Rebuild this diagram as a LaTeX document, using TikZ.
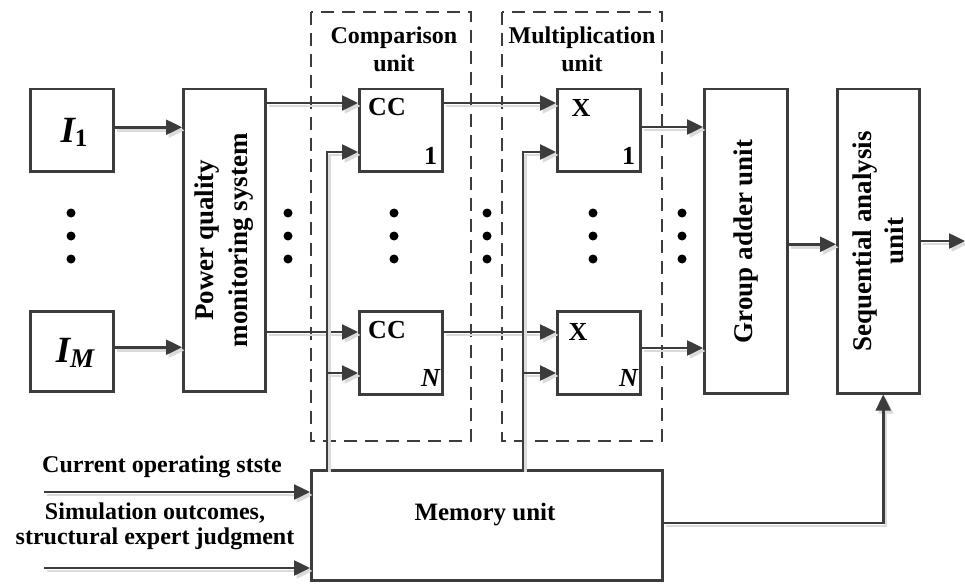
\documentclass[tikz,border=0pt]{standalone}
\usepackage{fontspec}
\setmainfont{Liberation Serif}
\usetikzlibrary{arrows.meta}
\definecolor{ink}{HTML}{3C3C3C}

% a connector with its soft drop shadow
\newcommand{\wirelink}[1]{%
  \draw[shadowline] #1;
  \draw[conn] #1;}

\begin{document}
\begin{tikzpicture}[x=1pt,y=-1pt,
  box/.style={draw=ink, line width=2.5pt, inner sep=0pt, anchor=north west},
  conn/.style={draw=ink, line width=2.5pt, -{Triangle[length=16pt,width=15pt]}},
  shadowline/.style={conn, draw=black!14, transform canvas={shift={(2.5pt,-3pt)}}},
  grp/.style={draw=ink, line width=2.3pt, dash pattern=on 13pt off 8pt},
  dotc/.style={circle, fill=black, inner sep=0pt, minimum size=9pt},
  lbl/.style={font=\bfseries\fontsize{24}{28}\selectfont, align=center, inner sep=0pt},
  big/.style={font=\bfseries\fontsize{27}{34}\selectfont, align=center, inner sep=0pt, rotate=90},
  tag/.style={font=\bfseries\fontsize{26}{28}\selectfont, inner sep=0pt},
]
\useasboundingbox (0,0) rectangle (965,583);

% grouping frames
\draw[grp] (311,12) rectangle (471,441);
\draw[grp] (502,12) rectangle (662,441);
\node[lbl] (cmpT) at (394,49) {Comparison\\unit};
\node[lbl] (mulT) at (582,49) {Multiplication\\unit};

% blocks
\node[box, minimum width=83pt, minimum height=82pt] (I1) at (29,88) {};
\node[box, minimum width=83pt, minimum height=80pt] (IM) at (29,310) {};
\node[box, minimum width=82pt, minimum height=302pt] (PQ) at (182,88) {};
\node[box, minimum width=83pt, minimum height=82pt] (CC1) at (358,88) {};
\node[box, minimum width=83pt, minimum height=83pt] (CCN) at (358,310) {};
\node[box, minimum width=83pt, minimum height=82pt] (X1) at (556,88) {};
\node[box, minimum width=83pt, minimum height=83pt] (XN) at (556,310) {};
\node[box, minimum width=83pt, minimum height=304pt] (GA) at (703,88) {};
\node[box, minimum width=82pt, minimum height=304pt] (SA) at (836,88) {};
\node[box, minimum width=351pt, minimum height=110pt] (MEM) at (310,469) {};

% block texts
\node[inner sep=0pt] (I1t) at (74,132) {{\fontsize{37}{37}\selectfont\bfseries\itshape I}\raisebox{-4pt}{\fontsize{25}{25}\selectfont\bfseries 1}};
\node[inner sep=0pt] (IMt) at (75,353) {{\fontsize{37}{37}\selectfont\bfseries\itshape I}\raisebox{-5pt}{\fontsize{27}{27}\selectfont\bfseries\itshape M}};
\node[big] (PQt) at (PQ.center) {Power quality\\monitoring system};
\node[big] (GAt) at (GA.center) {Group adder unit};
\node[big, font=\bfseries\fontsize{27}{32}\selectfont] (SAt) at (SA.center) {Sequential analysis\\unit};
\node[font=\bfseries\fontsize{25}{28}\selectfont, inner sep=0pt] (MEMt) at (485,515) {Memory unit};

\node[tag] (cc1t) at ([xshift=29pt,yshift=-19pt]CC1.north west) {CC};
\node[tag] (cc1n) at ([xshift=-13pt,yshift=17pt]CC1.south east) {1};
\node[tag] (ccNt) at ([xshift=29pt,yshift=-20pt]CCN.north west) {CC};
\node[tag, font=\bfseries\itshape\fontsize{26}{28}\selectfont] (ccNn) at ([xshift=-13pt,yshift=18pt]CCN.south east) {N};
\node[tag] (x1t) at ([xshift=25pt,yshift=-20pt]X1.north west) {X};
\node[tag] (x1n) at ([xshift=-13pt,yshift=17pt]X1.south east) {1};
\node[tag] (xNt) at ([xshift=22pt,yshift=-22pt]XN.north west) {X};
\node[tag, font=\bfseries\itshape\fontsize{26}{28}\selectfont] (xNn) at ([xshift=-13pt,yshift=18pt]XN.south east) {N};

% input labels
\node[lbl] (curT) at (162,467) {Current operating stste};
\node[lbl, font=\bfseries\fontsize{24}{25}\selectfont] (simT) at (155,526) {Simulation outcomes,\\structural expert judgment};

% ellipsis dots
\foreach \x/\n in {71/a,288/b,394/c,487/d,593/e,682/f}{
  \node[dotc] (\n1) at (\x,213) {};
  \node[dotc] (\n2) at (\x,236) {};
  \node[dotc] (\n3) at (\x,259) {};
}

% ports
\coordinate (cc1a) at ([yshift=-15pt]CC1.north west);
\coordinate (cc1b) at ([yshift=-64pt]CC1.north west);
\coordinate (ccNa) at ([yshift=-22pt]CCN.north west);
\coordinate (ccNb) at ([yshift=-63pt]CCN.north west);
\coordinate (x1a) at ([yshift=-15pt]X1.north west);
\coordinate (x1b) at ([yshift=-64pt]X1.north west);
\coordinate (xNa) at ([yshift=-22pt]XN.north west);
\coordinate (xNb) at ([yshift=-63pt]XN.north west);
\coordinate (x1o) at ([yshift=-39pt]X1.north east);
\coordinate (xNo) at ([yshift=-38pt]XN.north east);
\coordinate (tapA) at ([xshift=17pt]MEM.north west);
\coordinate (tapB) at ([xshift=213pt]MEM.north west);
\coordinate (in1) at (44,492);
\coordinate (in2) at (44,568);
\coordinate (out) at (965,241);
\coordinate (memo) at ([yshift=-54pt]MEM.north east);

% connectors
\wirelink{([yshift=3pt]I1.east) -- ([yshift=3pt]I1.east -| PQ.west)}
\wirelink{([yshift=4pt]IM.east) -- ([yshift=4pt]IM.east -| PQ.west)}
\wirelink{(PQ.east |- cc1a) -- (cc1a)}
\wirelink{(PQ.east |- ccNa) -- (ccNa)}
\wirelink{(CC1.east |- cc1a) -- (x1a)}
\wirelink{(CCN.east |- ccNa) -- (xNa)}
\wirelink{(x1o) -- (x1o -| GA.west)}
\wirelink{(xNo) -- (xNo -| GA.west)}
\wirelink{([yshift=-3pt]GA.east) -- ([yshift=-3pt]GA.east -| SA.west)}
\wirelink{(SA.east |- out) -- (out)}
\wirelink{(tapA) |- (cc1b)}
\wirelink{(tapA |- ccNb) -- (ccNb)}
\wirelink{(tapB) |- (x1b)}
\wirelink{(tapB |- xNb) -- (xNb)}
\wirelink{(in1) -- (in1 -| MEM.west)}
\wirelink{(in2) -- (in2 -| MEM.west)}
\wirelink{(memo) -| ([xshift=5pt]SA.south)}
\end{tikzpicture}
\end{document}
